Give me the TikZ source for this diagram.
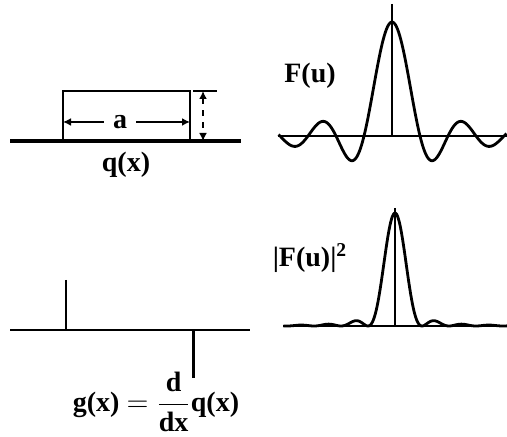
\documentclass[tikz,border=0pt]{standalone}
\usepackage{fontspec}
\setmainfont{Liberation Serif}
\usetikzlibrary{arrows.meta}

\begin{document}
\begin{tikzpicture}[
  x=0.5pt, y=-0.5pt,
  every node/.style={font=\fontsize{14}{16}\selectfont\bfseries, inner sep=2pt},
  axis/.style={line width=1pt},
  curve/.style={line width=1.4pt, line join=round},
  dim/.style={line width=0.8pt, -{Latex[length=4pt,width=4pt]}},
]

\useasboundingbox (0,0) rectangle (507,437);

% top left: the aperture q(x)
\draw[line width=2pt] (10,141) -- (241,141);
\draw[line width=1pt] (63,91) rectangle (190,141);
\node (alabel) at (120,122) {a};
\coordinate (aleft) at (63,122);
\coordinate (aright) at (190,122);
\draw[dim] (alabel.west) ++(-5,0) -- (aleft);
\draw[dim] (alabel.east) ++(5,0) -- (aright);
\coordinate (htop) at (203,91);
\coordinate (hbot) at (203,141);
\draw[line width=0.8pt] (193,91) -- (217,91);
\draw[line width=0.8pt, dashed, {Latex[length=4pt,width=4pt]}-{Latex[length=4pt,width=4pt]}] (htop) -- (hbot);
\node (qlabel) at (126,165) {q(x)};

% top right: F(u)
\node (Flabel) at (310,76) {F(u)};
\draw[axis] (278,136) -- (507,136);
\draw[axis] (392,4) -- (392,136);
\draw[curve] plot[domain=-113.5:114.5, samples=229, smooth]
  ({392+\x},{136-114*sin(\x*6.42857)/(\x*0.112200)});

% bottom left: g(x)
\draw[axis] (10,330) -- (250,330);
\draw[axis] (66,280) -- (66,330);
\draw[line width=1.5pt] (193,330) -- (193,378);
\node (glabel) at (156,402) {g(x) $=\displaystyle\frac{\mbox{d}}{\mbox{dx}}$q(x)};

% bottom right: |F(u)|^2
\node (Fsqlabel) at (310,258) {|F(u)|\textsuperscript{2}};
\draw[axis] (283,326) -- (507,326);
\draw[axis] (395,208) -- (395,326);
\draw[curve] plot[domain=-111.5:112.5, samples=225, smooth]
  ({395+\x},{326-113*(sin(\x*6.66667)/(\x*0.116355))^2});

\end{tikzpicture}
\end{document}
